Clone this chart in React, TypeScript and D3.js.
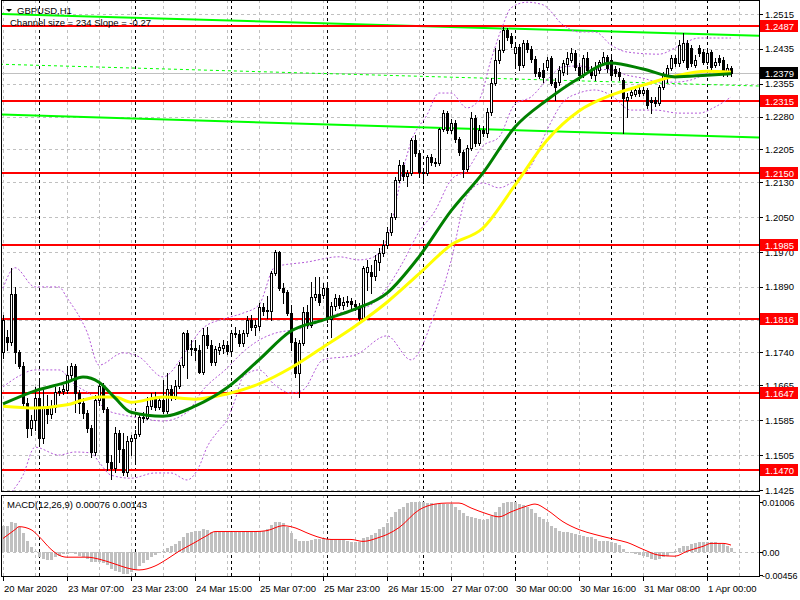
import React, { useEffect } from 'react';
import * as d3 from 'd3';

// ---------- DATA ----------
const opens = [
  1.1741, 1.1775, 1.1763, 1.1874, 1.1741, 1.1709, 1.1624, 1.1567, 1.1585, 1.1636,
  1.1544, 1.1615, 1.1599, 1.1615, 1.1649, 1.1652, 1.1654, 1.1689, 1.1709, 1.1647,
  1.1624, 1.1601, 1.1567, 1.1512, 1.1631, 1.1663, 1.1610, 1.1489, 1.1476, 1.1555,
  1.1519, 1.1466, 1.1537, 1.1544, 1.1553, 1.1592, 1.1590, 1.1617, 1.1633, 1.1615,
  1.1631, 1.1606, 1.1656, 1.1638, 1.1663, 1.1711, 1.1784, 1.1748, 1.1750, 1.1746,
  1.1695, 1.1780, 1.1757, 1.1718, 1.1746, 1.1750, 1.1757, 1.1744, 1.1784, 1.1782,
  1.1761, 1.1784, 1.1814, 1.1798, 1.1801, 1.1844, 1.1835, 1.1835, 1.1922, 1.1970,
  1.1888, 1.1878, 1.1830, 1.1763, 1.1693, 1.1761, 1.1833, 1.1803, 1.1867, 1.1874,
  1.1871, 1.1888, 1.1817, 1.1846, 1.1865, 1.1849, 1.1855, 1.1858, 1.1851, 1.1846,
  1.1819, 1.1924, 1.1924, 1.1915, 1.1947, 1.1968, 1.1986, 1.2015, 1.2050, 1.2135,
  1.2169, 1.2144, 1.2151, 1.2226, 1.2197, 1.2153, 1.2151, 1.2187, 1.2176, 1.2174,
  1.2251, 1.2288, 1.2249, 1.2265, 1.2229, 1.2199, 1.2160, 1.2208, 1.2277, 1.2220,
  1.2249, 1.2242, 1.2290, 1.2357, 1.2410, 1.2432, 1.2478, 1.2465, 1.2426, 1.2439,
  1.2398, 1.2449, 1.2435, 1.2412, 1.2382, 1.2387, 1.2394, 1.2414, 1.2359, 1.2359,
  1.2382, 1.2401, 1.2410, 1.2426, 1.2394, 1.2375, 1.2414, 1.2387, 1.2375, 1.2387,
  1.2403, 1.2416, 1.2410, 1.2389, 1.2382, 1.2364, 1.2318, 1.2329, 1.2332, 1.2341,
  1.2334, 1.2341, 1.2318, 1.2318, 1.2311, 1.2348, 1.2375, 1.2391, 1.2414, 1.2403,
  1.2410, 1.2449, 1.2437, 1.2398, 1.2437, 1.2428, 1.2405, 1.2428, 1.2398, 1.2414,
  1.2410, 1.2380, 1.2391,
];
const highs = [
  1.1826, 1.1791, 1.1934, 1.1890, 1.1746, 1.1718, 1.1636, 1.1597, 1.1661, 1.1677,
  1.1659, 1.1643, 1.1631, 1.1661, 1.1661, 1.1666, 1.1709, 1.1716, 1.1714, 1.1654,
  1.1636, 1.1608, 1.1574, 1.1643, 1.1670, 1.1670, 1.1615, 1.1506, 1.1569, 1.1562,
  1.1555, 1.1548, 1.1551, 1.1562, 1.1601, 1.1603, 1.1638, 1.1647, 1.1649, 1.1640,
  1.1677, 1.1693, 1.1666, 1.1677, 1.1718, 1.1786, 1.1791, 1.1768, 1.1768, 1.1757,
  1.1796, 1.1798, 1.1768, 1.1755, 1.1761, 1.1768, 1.1766, 1.1791, 1.1798, 1.1791,
  1.1791, 1.1823, 1.1826, 1.1814, 1.1853, 1.1853, 1.1869, 1.1927, 1.1975, 1.1972,
  1.1899, 1.1883, 1.1849, 1.1773, 1.1768, 1.1844, 1.1849, 1.1901, 1.1913, 1.1913,
  1.1899, 1.1894, 1.1855, 1.1874, 1.1871, 1.1867, 1.1869, 1.1865, 1.1860, 1.1853,
  1.1938, 1.1952, 1.1941, 1.1963, 1.1979, 1.1997, 1.2027, 1.2059, 1.2142, 1.2181,
  1.2176, 1.2158, 1.2231, 1.2238, 1.2203, 1.2162, 1.2192, 1.2194, 1.2185, 1.2254,
  1.2295, 1.2293, 1.2274, 1.2272, 1.2233, 1.2203, 1.2215, 1.2290, 1.2284, 1.2261,
  1.2258, 1.2300, 1.2368, 1.2437, 1.2455, 1.2485, 1.2483, 1.2471, 1.2449, 1.2446,
  1.2455, 1.2455, 1.2442, 1.2419, 1.2391, 1.2403, 1.2416, 1.2419, 1.2368, 1.2396,
  1.2410, 1.2428, 1.2437, 1.2432, 1.2403, 1.2421, 1.2428, 1.2396, 1.2405, 1.2410,
  1.2428, 1.2421, 1.2419, 1.2396, 1.2391, 1.2368, 1.2334, 1.2345, 1.2348, 1.2348,
  1.2348, 1.2345, 1.2325, 1.2325, 1.2352, 1.2382, 1.2398, 1.2421, 1.2421, 1.2455,
  1.2471, 1.2455, 1.2444, 1.2421, 1.2444, 1.2435, 1.2432, 1.2432, 1.2414, 1.2421,
  1.2416, 1.2401, 1.2396,
];
const lows = [
  1.1728, 1.1746, 1.1757, 1.1716, 1.1705, 1.1613, 1.1546, 1.1551, 1.1562, 1.1532,
  1.1532, 1.1578, 1.1590, 1.1603, 1.1643, 1.1645, 1.1647, 1.1682, 1.1603, 1.1601,
  1.1590, 1.1557, 1.1501, 1.1506, 1.1620, 1.1603, 1.1471, 1.1450, 1.1466, 1.1489,
  1.1460, 1.1457, 1.1506, 1.1487, 1.1548, 1.1580, 1.1587, 1.1610, 1.1608, 1.1610,
  1.1601, 1.1601, 1.1631, 1.1633, 1.1659, 1.1707, 1.1682, 1.1734, 1.1723, 1.1693,
  1.1691, 1.1750, 1.1711, 1.1711, 1.1737, 1.1739, 1.1737, 1.1737, 1.1775, 1.1755,
  1.1755, 1.1777, 1.1791, 1.1780, 1.1791, 1.1826, 1.1819, 1.1814, 1.1918, 1.1883,
  1.1853, 1.1826, 1.1746, 1.1684, 1.1638, 1.1757, 1.1796, 1.1798, 1.1860, 1.1849,
  1.1865, 1.1810, 1.1775, 1.1837, 1.1842, 1.1839, 1.1846, 1.1842, 1.1837, 1.1814,
  1.1814, 1.1883, 1.1876, 1.1906, 1.1929, 1.1961, 1.1979, 1.2009, 1.2045, 1.2130,
  1.2135, 1.2121, 1.2146, 1.2190, 1.2142, 1.2128, 1.2146, 1.2169, 1.2167, 1.2169,
  1.2247, 1.2242, 1.2242, 1.2222, 1.2192, 1.2142, 1.2155, 1.2203, 1.2213, 1.2215,
  1.2235, 1.2233, 1.2284, 1.2352, 1.2403, 1.2428, 1.2455, 1.2439, 1.2394, 1.2387,
  1.2394, 1.2428, 1.2405, 1.2373, 1.2368, 1.2359, 1.2387, 1.2352, 1.2318, 1.2352,
  1.2375, 1.2378, 1.2405, 1.2387, 1.2364, 1.2371, 1.2380, 1.2368, 1.2364, 1.2380,
  1.2398, 1.2382, 1.2371, 1.2373, 1.2364, 1.2242, 1.2279, 1.2323, 1.2327, 1.2327,
  1.2329, 1.2300, 1.2288, 1.2304, 1.2307, 1.2343, 1.2359, 1.2387, 1.2396, 1.2396,
  1.2405, 1.2389, 1.2396, 1.2394, 1.2419, 1.2401, 1.2401, 1.2389, 1.2394, 1.2398,
  1.2373, 1.2373, 1.2373,
];
const closes = [
  1.1814, 1.1763, 1.1874, 1.1741, 1.1709, 1.1624, 1.1567, 1.1585, 1.1636, 1.1544,
  1.1615, 1.1599, 1.1617, 1.1649, 1.1652, 1.1656, 1.1689, 1.1709, 1.1647, 1.1624,
  1.1601, 1.1567, 1.1512, 1.1631, 1.1663, 1.1610, 1.1489, 1.1476, 1.1555, 1.1519,
  1.1466, 1.1537, 1.1544, 1.1553, 1.1592, 1.1590, 1.1617, 1.1633, 1.1615, 1.1631,
  1.1606, 1.1656, 1.1638, 1.1663, 1.1711, 1.1784, 1.1748, 1.1750, 1.1746, 1.1695,
  1.1780, 1.1757, 1.1718, 1.1748, 1.1752, 1.1757, 1.1744, 1.1784, 1.1782, 1.1761,
  1.1784, 1.1814, 1.1798, 1.1803, 1.1844, 1.1835, 1.1837, 1.1922, 1.1970, 1.1888,
  1.1878, 1.1830, 1.1763, 1.1693, 1.1761, 1.1833, 1.1803, 1.1867, 1.1874, 1.1855,
  1.1888, 1.1817, 1.1846, 1.1865, 1.1849, 1.1855, 1.1858, 1.1851, 1.1846, 1.1819,
  1.1934, 1.1936, 1.1915, 1.1952, 1.1968, 1.1986, 1.2015, 1.2050, 1.2135, 1.2169,
  1.2144, 1.2151, 1.2226, 1.2197, 1.2153, 1.2151, 1.2187, 1.2176, 1.2174, 1.2251,
  1.2288, 1.2249, 1.2265, 1.2229, 1.2199, 1.2160, 1.2208, 1.2277, 1.2220, 1.2249,
  1.2242, 1.2290, 1.2357, 1.2410, 1.2432, 1.2478, 1.2462, 1.2449, 1.2439, 1.2398,
  1.2449, 1.2435, 1.2412, 1.2380, 1.2373, 1.2371, 1.2410, 1.2357, 1.2348, 1.2387,
  1.2403, 1.2414, 1.2426, 1.2394, 1.2375, 1.2414, 1.2387, 1.2375, 1.2391, 1.2405,
  1.2416, 1.2391, 1.2375, 1.2380, 1.2373, 1.2323, 1.2325, 1.2336, 1.2341, 1.2334,
  1.2341, 1.2307, 1.2313, 1.2311, 1.2348, 1.2375, 1.2391, 1.2414, 1.2403, 1.2444,
  1.2449, 1.2394, 1.2403, 1.2410, 1.2426, 1.2405, 1.2426, 1.2394, 1.2405, 1.2405,
  1.2382, 1.2391, 1.2379,
];

const timeLabelBars = [0, 16, 32, 48, 64, 80, 96, 112, 128, 144, 160, 176];
const timeLabels = [
  '20 Mar 2020', '23 Mar 07:00', '23 Mar 23:00', '24 Mar 15:00', '25 Mar 07:00', '25 Mar 23:00',
  '26 Mar 15:00', '27 Mar 07:00', '30 Mar 00:00', '30 Mar 16:00', '31 Mar 08:00', '1 Apr 00:00',
];
const daySeparatorBars = [9, 33, 57, 81, 105, 128, 152, 176];

const priceTicks = [1.2515, 1.2435, 1.2355, 1.2280, 1.2205, 1.2130, 1.2050, 1.1970, 1.1890, 1.1815, 1.1740, 1.1665, 1.1585, 1.1505, 1.1425];
const levels = [1.2487, 1.2315, 1.2150, 1.1985, 1.1816, 1.1647, 1.1470];
const bidPrice = 1.2379;

const maBars = [0, 8, 16, 20, 24, 28, 32, 40, 48, 56, 64, 72, 80, 88, 96, 104, 112, 120, 128, 136, 144, 152, 160, 168, 176, 182];
const maGreen = [1.1622, 1.1652, 1.1672, 1.1684, 1.1672, 1.1636, 1.1603, 1.1594, 1.1617, 1.1659, 1.1723, 1.1789, 1.1814, 1.1839, 1.1876, 1.1959, 1.2064, 1.2151, 1.2256, 1.2318, 1.2368, 1.2403, 1.2389, 1.2371, 1.2375, 1.2378];
const maYellow = [1.1617, 1.1613, 1.1620, 1.1631, 1.1638, 1.1638, 1.1626, 1.1638, 1.1633, 1.1645, 1.1668, 1.1705, 1.1752, 1.1800, 1.1855, 1.1920, 1.1986, 1.2025, 1.2123, 1.2226, 1.2293, 1.2329, 1.2352, 1.2373, 1.2384, 1.2382];

// Bollinger bands (20, 2): upper / middle / lower
const bandUpperBars = [0, 3, 8, 14, 16, 21, 24, 30, 34, 40, 46, 50, 56, 60, 64, 68, 76, 84, 89, 92, 96, 100, 102, 106, 109, 112, 116, 119, 122, 125, 127, 131, 135, 140, 144, 148, 152, 156, 164, 169, 174, 182];
const bandUpper = [1.1887, 1.1934, 1.1890, 1.1890, 1.1865, 1.1787, 1.1711, 1.1739, 1.1730, 1.1684, 1.1746, 1.1796, 1.1819, 1.1830, 1.1849, 1.1936, 1.1947, 1.1959, 1.1952, 1.1956, 1.2000, 1.2158, 1.2222, 1.2284, 1.2334, 1.2334, 1.2300, 1.2318, 1.2410, 1.2490, 1.2529, 1.2542, 1.2536, 1.2490, 1.2474, 1.2474, 1.2444, 1.2428, 1.2423, 1.2442, 1.2460, 1.2460];
const bandMiddleBars = [0, 4, 8, 14, 18, 22, 26, 30, 34, 40, 46, 50, 56, 60, 64, 68, 72, 76, 80, 84, 88, 92, 96, 100, 104, 108, 112, 116, 120, 124, 128, 132, 136, 140, 144, 148, 152, 156, 160, 164, 168, 172, 176, 182];
const bandMiddle = [1.1661, 1.1686, 1.1700, 1.1700, 1.1666, 1.1643, 1.1608, 1.1597, 1.1590, 1.1583, 1.1603, 1.1654, 1.1704, 1.1741, 1.1768, 1.1784, 1.1791, 1.1798, 1.1814, 1.1830, 1.1837, 1.1849, 1.1888, 1.1947, 1.2016, 1.2064, 1.2135, 1.2158, 1.2213, 1.2233, 1.2309, 1.2325, 1.2364, 1.2394, 1.2396, 1.2389, 1.2387, 1.2375, 1.2368, 1.2359, 1.2359, 1.2364, 1.2378, 1.2387];
const bandLowerBars = [0, 5, 8, 14, 18, 22, 24, 27, 32, 38, 42, 46, 49, 51, 54, 56, 58, 60, 64, 68, 72, 75, 80, 88, 96, 102, 108, 112, 116, 120, 124, 128, 132, 136, 140, 144, 148, 152, 157, 163, 169, 174, 178, 182];
const bandLower = [1.1402, 1.1459, 1.1523, 1.1505, 1.1512, 1.1510, 1.1489, 1.1459, 1.1452, 1.1464, 1.1464, 1.1448, 1.1478, 1.1523, 1.1562, 1.1585, 1.1631, 1.1684, 1.1700, 1.1665, 1.1647, 1.1654, 1.1723, 1.1734, 1.1778, 1.1723, 1.1832, 1.1949, 1.2100, 1.2128, 1.2117, 1.2135, 1.2167, 1.2249, 1.2313, 1.2334, 1.2341, 1.2329, 1.2295, 1.2295, 1.2288, 1.2288, 1.2302, 1.2325];

const channelBars = [-0.75, 189.25];
const channelUpper = [1.2515, 1.2465];
const channelMiddle = [1.2400, 1.2350];
const channelLower = [1.2285, 1.2232];

const macdHist = [
  0.00532, 0.00532, 0.00611, 0.00591, 0.00512, 0.00394, 0.00217, 0.00099, 0.00020, -0.00099,
  -0.00138, -0.00158, -0.00158, -0.00099, -0.00079, -0.00039, -0.00039, -0.00020, -0.00039, -0.00079,
  -0.00099, -0.00138, -0.00197, -0.00197, -0.00197, -0.00217, -0.00256, -0.00335, -0.00374, -0.00394,
  -0.00433, -0.00433, -0.00394, -0.00355, -0.00276, -0.00217, -0.00158, -0.00099, -0.00059, -0.00020,
  0.00020, 0.00079, 0.00118, 0.00158, 0.00217, 0.00315, 0.00394, 0.00414, 0.00433, 0.00433,
  0.00473, 0.00453, 0.00414, 0.00414, 0.00414, 0.00414, 0.00414, 0.00414, 0.00414, 0.00414,
  0.00433, 0.00433, 0.00433, 0.00433, 0.00433, 0.00433, 0.00473, 0.00552, 0.00611, 0.00611,
  0.00591, 0.00512, 0.00394, 0.00256, 0.00217, 0.00217, 0.00217, 0.00236, 0.00256, 0.00256,
  0.00276, 0.00256, 0.00256, 0.00236, 0.00236, 0.00236, 0.00217, 0.00197, 0.00197, 0.00197,
  0.00276, 0.00315, 0.00355, 0.00394, 0.00473, 0.00512, 0.00591, 0.00709, 0.00808, 0.00867,
  0.00906, 0.00985, 0.01005, 0.01006, 0.01006, 0.01005, 0.00985, 0.00985, 0.00965, 0.00965,
  0.00965, 0.00965, 0.00965, 0.00906, 0.00847, 0.00788, 0.00729, 0.00709, 0.00690, 0.00670,
  0.00650, 0.00670, 0.00729, 0.00808, 0.00906, 0.00985, 0.01005, 0.01006, 0.01005, 0.00965,
  0.00946, 0.00906, 0.00867, 0.00788, 0.00709, 0.00670, 0.00611, 0.00532, 0.00493, 0.00433,
  0.00414, 0.00414, 0.00394, 0.00374, 0.00355, 0.00335, 0.00315, 0.00296, 0.00256, 0.00217,
  0.00217, 0.00217, 0.00197, 0.00177, 0.00138, 0.00059, -0.00010, -0.00020, -0.00039, -0.00059,
  -0.00079, -0.00099, -0.00138, -0.00158, -0.00138, -0.00099, -0.00079, -0.00020, 0.00020, 0.00079,
  0.00118, 0.00118, 0.00158, 0.00177, 0.00197, 0.00197, 0.00197, 0.00197, 0.00197, 0.00177,
  0.00158, 0.00118, 0.00076,
];
const signalBars = [0, 3, 4, 7, 9, 12, 14, 16, 18, 21, 24, 28, 31, 34, 38, 41, 44, 48, 51, 53, 58, 63, 66, 70, 72, 77, 80, 82, 87, 90, 94, 96, 99, 104, 108, 111, 114, 117, 121, 124, 127, 131, 133, 136, 140, 144, 148, 153, 156, 160, 164, 168, 171, 175, 177, 180, 182];
const signalValues = [0.00276, 0.00453, 0.00512, 0.00453, 0.00315, 0.00059, -0.00059, -0.00099, -0.00099, -0.00099, -0.00138, -0.00236, -0.00315, -0.00355, -0.00276, -0.00138, 0.00020, 0.00197, 0.00335, 0.00414, 0.00414, 0.00414, 0.00433, 0.00532, 0.00512, 0.00355, 0.00276, 0.00256, 0.00256, 0.00217, 0.00296, 0.00355, 0.00493, 0.00847, 0.00965, 0.00985, 0.00985, 0.00887, 0.00768, 0.00709, 0.00808, 0.00926, 0.00965, 0.00847, 0.00611, 0.00453, 0.00355, 0.00256, 0.00197, 0.00059, -0.00059, -0.00079, 0.00020, 0.00118, 0.00177, 0.00177, 0.00143];
const macdTicks = [0.01006, 0.0, -0.00456];
const macdTickLabels = ['0.01006', '0.00', '-0.00456'];

// ---------- LAYOUT ----------
const W = 800;
const H = 600;
const PL = 1;
const PR = 759;
const MAIN_T = 0;
const MAIN_B = 491;
const MACD_T = 495;
const MACD_B = 576;
const FONT = 'Liberation Sans, Arial, sans-serif';
const BAND_COLOR = '#b45ad8';

export default function App() {
  useEffect(() => {
    document.body.style.margin = '0';
  }, []);

  const x = d3.scaleLinear().domain([0, 182]).range([3, 731]);
  const y = d3.scaleLinear().domain([1.1425, 1.2515]).range([490, 14]);
  const ym = d3.scaleLinear().domain([-0.00456, 0.01006]).range([575, 502]);

  const px = (v: number) => Math.round(v) + 0.5;

  const maLine = (bars: number[]) =>
    d3
      .line<number>()
      .x((_, k) => x(bars[k]))
      .y((d) => y(d))
      .curve(d3.curveMonotoneX);

  const sigLine = d3
    .line<number>()
    .x((_, k) => x(signalBars[k]))
    .y((d) => ym(d))
    .curve(d3.curveMonotoneX);

  const chanLine = (vals: number[]) =>
    d3
      .line<number>()
      .x((_, k) => x(channelBars[k]))
      .y((d) => y(d))(vals) as string;

  const gridXBars = d3.range(0, 190, 8);

  return (
    <svg
      width={W}
      height={H}
      style={{ position: 'absolute', left: 0, top: 0, background: '#fff', display: 'block' }}
      fontFamily={FONT}
    >
      <defs>
        <clipPath id="mainClip">
          <rect x={PL + 1} y={MAIN_T + 1} width={PR - PL - 1} height={MAIN_B - MAIN_T - 1} />
        </clipPath>
        <clipPath id="macdClip">
          <rect x={PL + 1} y={MACD_T + 1} width={PR - PL - 1} height={MACD_B - MACD_T - 1} />
        </clipPath>
      </defs>
      <rect x={0} y={0} width={W} height={H} fill="#fff" />

      {/* MAIN PANEL */}
      <g clipPath="url(#mainClip)" shapeRendering="crispEdges">
        {gridXBars.map((b) => (
          <line key={'gx' + b} x1={px(x(b))} x2={px(x(b))} y1={MAIN_T} y2={MAIN_B} stroke="#c0c0c0" strokeDasharray="3,3" />
        ))}
        {priceTicks.map((t) => (
          <line key={'gy' + t} x1={PL} x2={PR} y1={px(y(t))} y2={px(y(t))} stroke="#c0c0c0" strokeDasharray="3,3" />
        ))}
        {daySeparatorBars.map((b) => (
          <line key={'ds' + b} x1={px(x(b))} x2={px(x(b))} y1={MAIN_T} y2={MAIN_B} stroke="#000" strokeDasharray="3,3" />
        ))}
        <line x1={PL} x2={PR} y1={px(y(bidPrice))} y2={px(y(bidPrice))} stroke="#c0c0c0" />
      </g>
      <g clipPath="url(#mainClip)">
        <path d={chanLine(channelUpper)} stroke="#00ff00" strokeWidth={2} fill="none" />
        <path d={chanLine(channelLower)} stroke="#00ff00" strokeWidth={2} fill="none" />
        <path d={chanLine(channelMiddle)} stroke="#00ff00" strokeWidth={1} strokeDasharray="3,3" fill="none" />
      </g>
      <g clipPath="url(#mainClip)" shapeRendering="crispEdges">
        {levels.map((l) => (
          <line key={'lv' + l} x1={PL} x2={PR} y1={Math.round(y(l))} y2={Math.round(y(l))} stroke="#ff0000" strokeWidth={2} />
        ))}
      </g>
      <g clipPath="url(#mainClip)">
        <path d={maLine(bandUpperBars)(bandUpper) as string} stroke={BAND_COLOR} strokeWidth={1} strokeDasharray="2,2" fill="none" />
        <path d={maLine(bandMiddleBars)(bandMiddle) as string} stroke={BAND_COLOR} strokeWidth={1} strokeDasharray="2,2" fill="none" />
        <path d={maLine(bandLowerBars)(bandLower) as string} stroke={BAND_COLOR} strokeWidth={1} strokeDasharray="2,2" fill="none" />
      </g>
      <g clipPath="url(#mainClip)" shapeRendering="crispEdges">
        {closes.map((c, i) => {
          const o = opens[i];
          const cx = Math.round(x(i));
          const top = Math.round(y(Math.max(o, c)));
          const bot = Math.round(y(Math.min(o, c)));
          const bull = c >= o;
          return (
            <g key={'c' + i}>
              <line x1={cx + 0.5} x2={cx + 0.5} y1={Math.round(y(highs[i]))} y2={Math.round(y(lows[i])) + 1} stroke="#000" />
              <rect
                x={cx - 0.5}
                y={top + 0.5}
                width={2}
                height={Math.max(bot - top, 0)}
                fill={bull ? '#fff' : '#000'}
                stroke="#000"
              />
            </g>
          );
        })}
      </g>
      <g clipPath="url(#mainClip)">
        <path d={maLine(maBars)(maYellow) as string} stroke="#ffff00" strokeWidth={3} fill="none" />
        <path d={maLine(maBars)(maGreen) as string} stroke="#008000" strokeWidth={3} fill="none" />
      </g>

      {/* header texts */}
      <path d="M6,9 L12,9 L9,12 Z" fill="#000" />
      <text x={17} y={14} fontSize={9.5} fill="#000">GBPUSD,H1</text>
      <text x={10} y={26} fontSize={9.5} fill="#000">Channel size = 234 Slope = -0.27</text>

      {/* MACD PANEL */}
      <g clipPath="url(#macdClip)" shapeRendering="crispEdges">
        {gridXBars.map((b) => (
          <line key={'mgx' + b} x1={px(x(b))} x2={px(x(b))} y1={MACD_T} y2={MACD_B} stroke="#c0c0c0" strokeDasharray="3,3" />
        ))}
        <line x1={PL} x2={PR} y1={px(ym(0))} y2={px(ym(0))} stroke="#c0c0c0" strokeDasharray="3,3" />
        {daySeparatorBars.map((b) => (
          <line key={'mds' + b} x1={px(x(b))} x2={px(x(b))} y1={MACD_T} y2={MACD_B} stroke="#000" strokeDasharray="3,3" />
        ))}
        {macdHist.map((v, i) => {
          const cx = Math.round(x(i));
          const y0 = Math.round(ym(0));
          const y1 = Math.round(ym(v));
          return (
            <rect key={'h' + i} x={cx - 1} y={Math.min(y0, y1)} width={3} height={Math.max(Math.abs(y1 - y0), 1)} fill="#c0c0c0" />
          );
        })}
      </g>
      <g clipPath="url(#macdClip)">
        <path d={sigLine(signalValues) as string} stroke="#ff0000" strokeWidth={1} fill="none" />
      </g>
      <text x={7} y={508} fontSize={9.5} fill="#000">MACD(12,26,9) 0.00076 0.00143</text>

      {/* frames */}
      <g shapeRendering="crispEdges" fill="none" stroke="#000">
        <rect x={PL + 0.5} y={MAIN_T + 0.5} width={PR - PL} height={MAIN_B - MAIN_T} />
        <rect x={PL + 0.5} y={MACD_T + 0.5} width={PR - PL} height={MACD_B - MACD_T} />
      </g>

      {/* right price axis */}
      <g fontSize={9.5} shapeRendering="crispEdges">
        {priceTicks.map((t) => (
          <g key={'pt' + t}>
            <line x1={PR} x2={PR + 4} y1={px(y(t))} y2={px(y(t))} stroke="#000" />
            <text x={765} y={y(t) + 3.5} fill="#000">{t.toFixed(4)}</text>
          </g>
        ))}
        {levels.map((l) => (
          <g key={'lb' + l}>
            <rect x={760} y={Math.round(y(l)) - 6} width={38} height={12} fill="#ff0000" />
            <text x={765} y={Math.round(y(l)) + 3.5} fill="#fff">{l.toFixed(4)}</text>
          </g>
        ))}
        <rect x={760} y={Math.round(y(bidPrice)) - 6} width={38} height={12} fill="#000" />
        <text x={765} y={Math.round(y(bidPrice)) + 3.5} fill="#fff">{bidPrice.toFixed(4)}</text>
        {macdTicks.map((t, k) => (
          <g key={'mt' + k}>
            <line x1={PR} x2={PR + 4} y1={px(ym(t))} y2={px(ym(t))} stroke="#000" />
            <text x={762} y={ym(t) + 3.5} fontSize={9} fill="#000">{macdTickLabels[k]}</text>
          </g>
        ))}
      </g>

      {/* bottom time axis */}
      <g fontSize={9.5} shapeRendering="crispEdges">
        {timeLabelBars.map((b, k) => (
          <g key={'tl' + b}>
            <line x1={px(x(b))} x2={px(x(b))} y1={MACD_B} y2={MACD_B + 5} stroke="#000" />
            <text x={x(b) + 1} y={592} fill="#000">{timeLabels[k]}</text>
          </g>
        ))}
      </g>
    </svg>
  );
}
